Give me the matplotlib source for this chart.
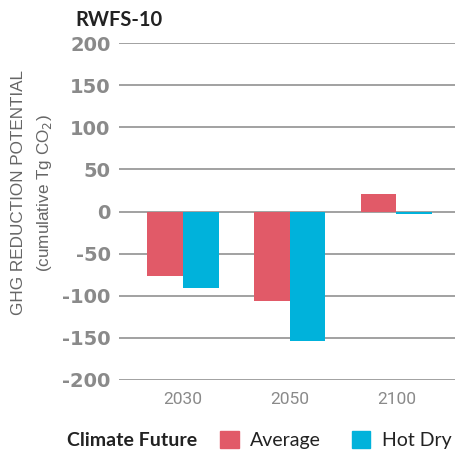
import numpy as np
import matplotlib
matplotlib.use("Agg")
import matplotlib.pyplot as plt
from matplotlib.patches import Patch

# data
years = ["2030", "2050", "2100"]
average = [-77, -106, 21]
hot_dry = [-91, -154, -3]
yticks = [-200, -150, -100, -50, 0, 50, 100, 150, 200]

red = "#E15A68"
blue = "#00B2DB"
grey = "#8A8A8A"

fig = plt.figure(figsize=(4.56, 4.54), dpi=100)
ax = fig.add_axes([0.261, 0.163, 0.739, 0.742])

x = np.arange(len(years))
w = 1 / 3
ax.bar(x - w / 2, average, width=w, color=red, zorder=3)
ax.bar(x + w / 2, hot_dry, width=w, color=blue, zorder=3)

ax.set_ylim(-200, 200)
ax.set_xlim(-0.6, 2.56)
ax.set_yticks(yticks)
ax.set_yticklabels([str(t) for t in yticks], fontsize=14, fontweight="bold", color=grey)
ax.set_xticks(x)
ax.set_xticklabels(years, fontsize=12.5, color=grey, family="Roboto")
ax.tick_params(axis="both", length=0)
ax.tick_params(axis="y", pad=6)
ax.tick_params(axis="x", pad=9)
ax.grid(axis="y", color="#9A9A9A", linewidth=1.3, zorder=0)
for s in ax.spines.values():
    s.set_visible(False)

fig.text(0.165, 0.955, "RWFS-10", fontsize=14.5, fontweight="bold", color="#222222",
         va="center", family="Lato")
fig.text(0.04, 0.575, "GHG REDUCTION POTENTIAL", rotation=90, fontsize=12.3,
         color="#666666", ha="center", va="center", family="Liberation Sans")
fig.text(0.098, 0.575, "(cumulative Tg CO$_2$)", rotation=90, fontsize=12.3,
         color="#666666", ha="center", va="center", family="Liberation Sans")

fig.text(0.148, 0.03, "Climate Future", fontsize=14, fontweight="bold", color="#222222",
         va="center", family="Lato")
handles = [Patch(color=red, label="Average"), Patch(color=blue, label="Hot Dry")]
fig.legend(handles=handles, ncol=2, frameon=False, loc="center left",
           bbox_to_anchor=(0.445, 0.03), handlelength=0.93, handleheight=0.95,
           handletextpad=0.6, columnspacing=1.6, labelcolor="#222222",
           prop={"family": "Lato", "size": 14})

fig.savefig("out.png", dpi=100)
